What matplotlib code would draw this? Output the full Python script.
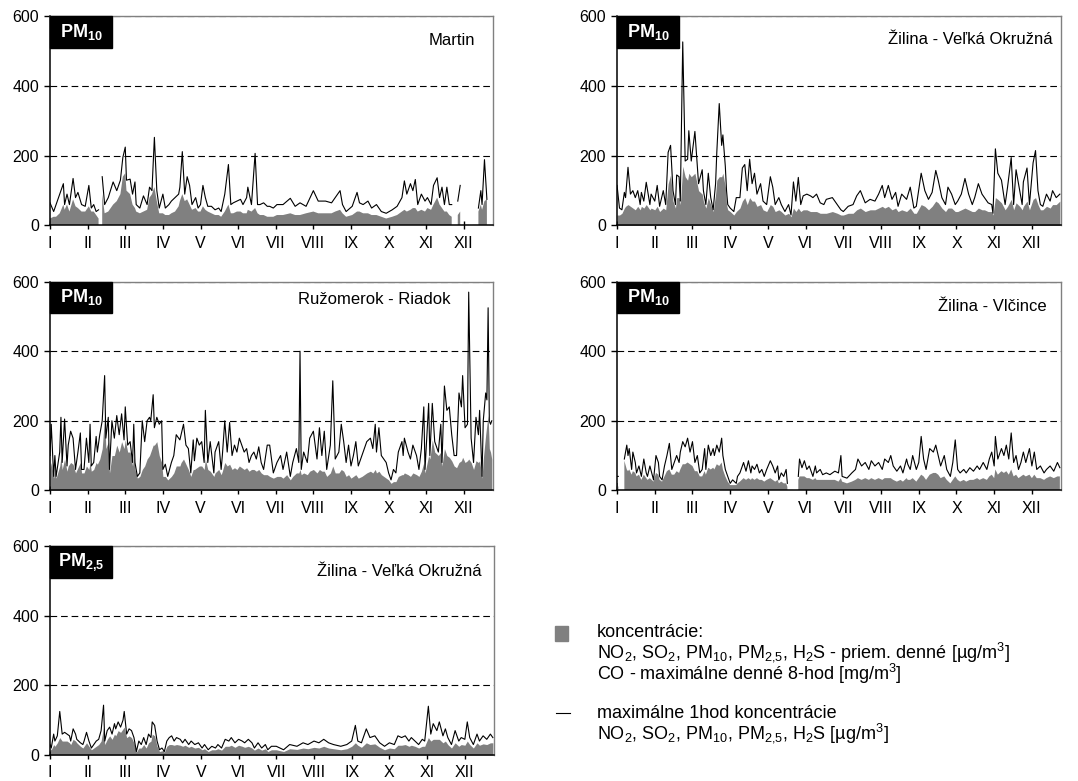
import numpy as np
import matplotlib.pyplot as plt
from matplotlib.patches import Rectangle
from matplotlib.lines import Line2D

nan = np.nan

plt.rcParams['font.family'] = 'Liberation Sans'
plt.rcParams['mathtext.fontset'] = 'custom'
plt.rcParams['mathtext.rm'] = 'Liberation Sans'
plt.rcParams['mathtext.it'] = 'Liberation Sans:italic'
plt.rcParams['mathtext.bf'] = 'Liberation Sans:bold'
plt.rcParams['mathtext.default'] = 'regular'

months = ['I', 'II', 'III', 'IV', 'V', 'VI', 'VII', 'VIII', 'IX', 'X', 'XI', 'XII']

# --- Martin PM10 (den v roku, max 1h, priemer denny) ---
martin_days = [0, 3, 5, 8, 11, 12, 14, 16, 19, 21,
               23, 26, 29, 32, 34, 36, 38, 40, 41, 43,
               45, 48, 52, 55, 58, 60, 62, 63, 66, 68,
               70, 71, 74, 77, 80, 82, 84, 86, 88, 90,
               93, 95, 98, 100, 103, 106, 107, 109, 111, 113,
               115, 117, 120, 122, 124, 126, 128, 130, 133, 136,
               139, 141, 144, 147, 149, 151, 154, 157, 159, 162,
               163, 166, 169, 171, 173, 176, 179, 181, 184, 187,
               192, 198, 202, 206, 211, 217, 221, 227, 232, 235,
               239, 241, 244, 249, 253, 255, 258, 262, 265, 269,
               273, 277, 282, 286, 290, 292, 294, 297, 299, 301,
               303, 306, 309, 311, 314, 316, 319, 321, 323, 325,
               327, 329, 331, 333, 336, 338, 340, 353, 355, 356,
               358, 360, 362]
martin_max = [65, 40, 60, 90, 120, 60, 90, 60, 135, 80,
              95, 60, 55, 115, 50, 60, 40, 45, nan, 140,
              60, 80, 125, 100, 130, 195, 225, 130, 133, 90,
              125, 60, 50, 85, 60, 110, 100, 253, 100, 50,
              90, 50, 60, 70, 80, 90, 110, 212, 90, 140,
              115, 60, 80, 50, 60, 115, 80, 55, 55, 45,
              50, 40, 90, 175, 60, 65, 70, 75, 60, 80,
              110, 60, 207, 60, 60, 65, 55, 55, 50, 60,
              60, 78, 55, 65, 55, 100, 70, 70, 65, 80,
              100, 60, 40, 55, 95, 65, 60, 70, 50, 60,
              40, 35, 45, 55, 80, 128, 90, 120, 100, 132,
              60, 90, 70, 80, 60, 115, 137, 80, 110, 60,
              110, 60, 60, nan, 70, 115, nan, 50, 100, 60,
              189, 75, nan]
martin_avg = [20, 25, 25, 35, 60, 45, 60, 40, 75, 55,
              50, 40, 40, 55, 40, 40, 30, 20, nan, 90,
              35, 40, 60, 70, 90, 140, 150, 100, 90, 60,
              50, 40, 35, 40, 45, 80, 90, 110, 70, 35,
              35, 30, 30, 35, 40, 55, 70, 90, 70, 75,
              60, 45, 50, 40, 40, 55, 45, 40, 35, 30,
              30, 25, 40, 60, 35, 35, 40, 40, 35, 35,
              45, 40, 50, 35, 30, 30, 25, 25, 25, 30,
              30, 35, 30, 30, 35, 40, 35, 35, 35, 40,
              45, 35, 25, 30, 40, 40, 35, 35, 30, 30,
              25, 20, 25, 30, 40, 45, 40, 45, 50, 50,
              40, 45, 40, 50, 45, 60, 80, 60, 50, 40,
              40, 30, 25, nan, 30, 40, nan, 40, 60, 45,
              70, 75, nan]

# --- Zilina - Velka Okruzna PM10 ---
zvo_days = [0, 2, 4, 6, 7, 9, 11, 13, 15, 17,
            19, 20, 22, 24, 27, 28, 31, 33, 35, 38,
            40, 42, 44, 46, 48, 49, 51, 52, 54, 56,
            58, 59, 61, 64, 67, 70, 71, 73, 75, 77,
            79, 81, 82, 84, 86, 87, 89, 90, 91, 93,
            96, 98, 101, 103, 105, 107, 109, 111, 113, 115,
            118, 120, 123, 126, 128, 130, 133, 135, 138, 141,
            143, 145, 147, 149, 151, 153, 156, 159, 161, 164,
            167, 170, 172, 177, 181, 184, 186, 190, 194, 197,
            200, 204, 208, 212, 215, 218, 220, 223, 226, 229,
            231, 234, 238, 241, 244, 246, 250, 253, 256, 259,
            262, 264, 267, 270, 272, 275, 278, 280, 283, 286,
            289, 292, 294, 297, 300, 302, 305, 308, 309, 311,
            313, 316, 319, 321, 324, 326, 328, 331, 333, 334,
            337, 339, 342, 344, 346, 348, 350, 353, 356, 358,
            361, 364]
zvo_max = [115, 50, 45, 95, 80, 167, 90, 100, 80, 100,
           60, 95, 70, 124, 60, 90, 70, 115, 55, 100,
           60, 210, 230, 100, 60, 145, 140, 70, 527, 185,
           190, 272, 185, 270, 120, 160, 100, 60, 150, 80,
           45, 120, 210, 350, 230, 260, 170, 100, 60, 50,
           40, 80, 80, 165, 175, 100, 190, 120, 150, 90,
           120, 70, 60, 140, 110, 60, 80, 60, 40, 60,
           30, 125, 70, 138, 60, 85, 90, 85, 80, 90,
           65, 60, 75, 80, 60, 45, 40, 55, 60, 85,
           100, 65, 75, 70, 90, 115, 80, 115, 75, 95,
           55, 90, 75, 110, 50, 55, 150, 100, 75, 95,
           158, 130, 80, 60, 110, 90, 60, 70, 90, 135,
           90, 60, 80, 120, 90, 80, 65, 60, 35, 220,
           150, 130, 60, 110, 195, 60, 160, 100, 60, 125,
           165, 60, 180, 215, 100, 60, 55, 90, 70, 100,
           80, 90]
zvo_avg = [30, 30, 35, 50, 55, 60, 55, 50, 45, 55,
           45, 55, 50, 60, 45, 50, 45, 55, 40, 50,
           45, 120, 145, 70, 50, 80, 80, 60, 170, 140,
           130, 150, 140, 150, 100, 90, 70, 50, 80, 60,
           40, 90, 130, 140, 140, 150, 110, 60, 45, 40,
           30, 40, 50, 70, 80, 60, 80, 70, 70, 55,
           60, 45, 40, 60, 55, 40, 45, 40, 30, 35,
           25, 50, 40, 50, 40, 45, 45, 40, 40, 40,
           35, 35, 35, 40, 35, 30, 30, 35, 35, 45,
           50, 40, 45, 45, 50, 55, 50, 55, 45, 50,
           40, 45, 40, 50, 35, 35, 60, 55, 45, 55,
           70, 65, 50, 40, 50, 50, 40, 40, 45, 50,
           45, 40, 40, 50, 45, 45, 40, 40, 30, 80,
           75, 65, 45, 55, 75, 45, 65, 55, 45, 55,
           70, 45, 75, 80, 60, 45, 45, 55, 50, 60,
           60, 70]

# --- Ruzomberok - Riadok PM10 ---
rz_days = [0, 1, 3, 4, 5, 8, 9, 10, 12, 14,
           15, 17, 19, 21, 23, 25, 26, 28, 30, 32,
           33, 34, 36, 38, 39, 41, 43, 45, 46, 48,
           49, 51, 53, 55, 57, 59, 61, 62, 64, 66,
           68, 69, 70, 72, 74, 76, 78, 80, 82, 83,
           85, 86, 88, 90, 92, 93, 95, 97, 100, 102,
           104, 107, 108, 110, 112, 114, 116, 118, 119, 121,
           123, 125, 127, 128, 130, 132, 135, 136, 139, 141,
           142, 144, 146, 148, 150, 152, 154, 156, 158, 160,
           162, 164, 166, 168, 170, 172, 174, 176, 179, 181,
           184, 187, 190, 192, 195, 198, 200, 203, 205, 206,
           207, 209, 212, 214, 217, 220, 222, 224, 226, 228,
           231, 233, 235, 238, 240, 242, 244, 246, 248, 250,
           252, 254, 257, 259, 261, 264, 266, 268, 269, 271,
           273, 275, 277, 279, 281, 283, 285, 287, 290, 291,
           292, 295, 297, 299, 302, 304, 306, 308, 309, 312,
           313, 315, 317, 320, 322, 323, 325, 327, 329, 331,
           333, 335, 337, 339, 340, 342, 344, 345, 347, 349,
           351, 353, 354, 356, 357, 359, 360, 361, 362, 363,
           364]
rz_max = [100, 190, 40, 100, 40, 110, 210, 80, 205, 70,
          130, 170, 150, 60, 110, 165, 60, 60, 150, 80,
          190, 70, 80, 155, 110, 160, 200, 330, 150, 210,
          60, 200, 150, 215, 160, 220, 145, 240, 130, 140,
          80, 190, 80, 40, 50, 200, 140, 200, 210, 200,
          275, 180, 210, 190, 200, 60, 75, 40, 80, 100,
          160, 145, 160, 190, 130, 120, 50, 145, 85, 150,
          130, 140, 80, 230, 80, 140, 50, 110, 140, 60,
          100, 200, 110, 195, 100, 130, 110, 150, 130, 110,
          120, 80, 100, 110, 90, 125, 80, 60, 130, 130,
          50, 80, 100, 60, 110, 40, 80, 120, 80, 400,
          60, 110, 80, 150, 170, 90, 180, 100, 170, 60,
          130, 315, 90, 110, 190, 140, 80, 130, 70, 100,
          140, 70, 100, 120, 140, 150, 120, 190, 110, 180,
          100, 90, 80, 50, 30, 60, 50, 110, 140, 100,
          150, 110, 90, 130, 100, 60, 120, 240, 60, 250,
          100, 250, 140, 110, 190, 80, 300, 230, 240, 160,
          100, 100, 280, 240, 330, 180, 190, 570, 150, 80,
          210, 160, 230, 40, 200, 280, 260, 525, 200, 190,
          200]
rz_avg = [60, 80, 35, 60, 35, 70, 95, 60, 90, 55,
          70, 80, 75, 50, 65, 80, 50, 50, 70, 60,
          80, 55, 60, 80, 75, 90, 120, 215, 120, 140,
          50, 100, 100, 130, 110, 140, 120, 145, 110, 110,
          70, 100, 60, 35, 40, 60, 70, 90, 100, 110,
          130, 130, 140, 100, 80, 40, 40, 30, 40, 50,
          70, 70, 80, 90, 75, 60, 40, 60, 60, 65,
          70, 70, 60, 90, 60, 55, 40, 50, 60, 45,
          55, 80, 70, 75, 60, 65, 60, 70, 65, 60,
          65, 55, 60, 60, 55, 60, 50, 45, 45, 40,
          35, 40, 40, 35, 45, 30, 40, 50, 50, 60,
          45, 50, 45, 55, 60, 50, 60, 55, 55, 40,
          50, 70, 50, 50, 60, 55, 40, 45, 35, 40,
          45, 35, 40, 45, 50, 55, 50, 60, 50, 55,
          45, 40, 35, 30, 20, 25, 25, 40, 45, 45,
          50, 45, 40, 50, 45, 40, 55, 80, 50, 100,
          90, 145, 110, 100, 110, 70, 120, 100, 95, 85,
          70, 65, 80, 85, 95, 80, 85, 90, 80, 60,
          85, 80, 85, 35, 90, 160, 190, 215, 120, 110,
          90]

# --- Zilina - Vlcince PM10 ---
vl_days = [0, 1, 2, 6, 8, 9, 10, 12, 13, 15,
           16, 18, 20, 22, 24, 25, 27, 30, 32, 34,
           35, 37, 39, 41, 43, 45, 47, 49, 51, 52,
           54, 56, 58, 60, 62, 64, 66, 68, 70, 72,
           73, 75, 77, 79, 80, 82, 84, 86, 87, 89,
           91, 93, 95, 98, 99, 101, 104, 106, 108, 110,
           111, 113, 115, 117, 119, 121, 123, 126, 128, 130,
           132, 133, 135, 137, 139, 140, 141, 149, 150, 152,
           154, 156, 158, 161, 163, 164, 167, 169, 172, 175,
           179, 182, 184, 185, 189, 193, 196, 198, 201, 204,
           207, 209, 212, 215, 218, 220, 223, 225, 227, 230,
           233, 235, 238, 239, 241, 243, 246, 248, 250, 252,
           254, 257, 260, 262, 264, 266, 269, 271, 274, 276,
           278, 280, 282, 285, 287, 290, 293, 296, 298, 301,
           304, 306, 308, 310, 311, 313, 316, 318, 320, 322,
           324, 326, 328, 330, 332, 334, 336, 339, 341, 343,
           345, 348, 351, 353, 356, 359, 362, 364]
vl_max = [40, 40, nan, 90, 130, 100, 120, 60, 110, 80,
          50, 70, 40, 90, 50, 40, 70, 30, 100, 80,
          40, 30, 70, 100, 135, 60, 80, 100, 80, 110,
          140, 125, 150, 110, 140, 80, 100, 50, 60, 120,
          60, 130, 100, 120, 100, 130, 110, 150, 100, 60,
          40, 20, 30, 20, 40, 50, 80, 55, 85, 50,
          70, 60, 75, 50, 60, 40, 60, 85, 70, 50,
          70, 30, 50, 40, 60, 20, nan, 40, 90, 65,
          85, 60, 70, 40, 70, 50, 60, 45, 50, 45,
          55, 50, 100, 40, 35, 50, 60, 90, 70, 80,
          60, 85, 70, 80, 60, 90, 80, 100, 70, 55,
          70, 50, 90, 75, 60, 100, 60, 80, 155, 90,
          60, 120, 110, 130, 100, 70, 100, 60, 40, 80,
          145, 60, 50, 60, 50, 65, 55, 70, 60, 80,
          60, 90, 110, 70, 155, 90, 120, 100, 130, 90,
          165, 80, 100, 60, 80, 110, 80, 120, 70, 110,
          60, 70, 50, 60, 70, 55, 80, 65]
vl_avg = [20, 20, nan, 85, 60, 55, 60, 45, 55, 50,
          40, 45, 30, 45, 35, 30, 35, 25, 50, 45,
          30, 25, 40, 55, 60, 45, 45, 55, 50, 60,
          75, 75, 80, 75, 70, 55, 55, 40, 40, 55,
          45, 65, 60, 65, 60, 75, 70, 80, 60, 40,
          25, 15, 15, 15, 20, 25, 35, 30, 35, 30,
          35, 30, 35, 30, 30, 25, 30, 35, 30, 25,
          30, 20, 25, 20, 20, 10, nan, 30, 40, 40,
          40, 35, 35, 30, 35, 30, 30, 30, 30, 30,
          30, 25, 35, 25, 20, 25, 30, 35, 30, 35,
          30, 35, 30, 35, 30, 35, 35, 35, 30, 25,
          30, 25, 35, 30, 30, 35, 25, 35, 45, 40,
          30, 45, 50, 50, 45, 35, 40, 30, 20, 30,
          40, 30, 25, 30, 25, 30, 30, 35, 30, 35,
          30, 40, 45, 35, 60, 45, 55, 50, 55, 45,
          60, 40, 45, 35, 40, 45, 40, 45, 35, 45,
          35, 35, 30, 35, 40, 35, 40, 40]

# --- Zilina - Velka Okruzna PM2,5 ---
pm25_days = [0, 1, 3, 4, 6, 8, 10, 12, 14, 16,
             17, 19, 21, 22, 25, 27, 28, 30, 32, 34,
             36, 38, 40, 42, 44, 45, 47, 49, 51, 53,
             54, 56, 58, 60, 61, 63, 65, 67, 69, 71,
             73, 75, 77, 79, 81, 83, 84, 86, 88, 90,
             92, 94, 96, 98, 100, 102, 104, 107, 109, 111,
             114, 116, 119, 122, 125, 127, 130, 133, 136, 138,
             141, 144, 147, 149, 152, 155, 158, 160, 163, 166,
             168, 171, 174, 177, 179, 182, 186, 192, 197, 203,
             208, 212, 217, 221, 225, 229, 233, 239, 244, 248,
             251, 253, 256, 260, 263, 267, 271, 275, 279, 283,
             286, 289, 292, 295, 297, 300, 303, 306, 308, 311,
             313, 315, 318, 320, 323, 325, 327, 330, 333, 336,
             338, 341, 343, 345, 348, 351, 353, 356, 359, 362,
             364]
pm25_max = [30, 20, 60, 40, 55, 125, 60, 65, 60, 55,
            40, 75, 60, 45, 35, 30, 40, 65, 40, 20,
            30, 40, 45, 70, 143, 40, 70, 80, 60, 90,
            75, 95, 80, 100, 125, 60, 75, 70, 50, 10,
            40, 30, 50, 30, 60, 50, 95, 85, 40, 15,
            20, 10, 40, 50, 55, 40, 50, 45, 35, 45,
            30, 40, 30, 35, 20, 30, 15, 25, 20, 30,
            20, 45, 40, 50, 35, 45, 40, 35, 45, 35,
            20, 35, 20, 30, 15, 25, 25, 15, 30, 25,
            35, 30, 40, 35, 45, 35, 30, 25, 30, 40,
            85, 40, 35, 75, 50, 55, 35, 25, 35, 30,
            55, 50, 55, 40, 50, 40, 30, 45, 40, 140,
            60, 90, 70, 95, 55, 75, 50, 30, 70, 40,
            50, 45, 95, 50, 30, 60, 40, 55, 45, 60,
            50]
pm25_avg = [20, 15, 30, 25, 35, 50, 40, 40, 40, 35,
            30, 45, 40, 35, 25, 20, 25, 35, 25, 15,
            20, 25, 30, 40, 80, 30, 45, 55, 45, 60,
            55, 70, 65, 75, 80, 50, 55, 50, 35, 8,
            20, 20, 30, 20, 35, 40, 60, 55, 25, 10,
            12, 8, 25, 30, 30, 28, 30, 28, 25, 28,
            22, 25, 20, 22, 15, 18, 10, 15, 15, 18,
            14, 25, 25, 28, 22, 28, 25, 22, 25, 20,
            14, 20, 14, 18, 10, 15, 15, 10, 18, 16,
            20, 18, 22, 20, 25, 20, 18, 15, 18, 25,
            35, 28, 22, 35, 30, 32, 22, 15, 20, 18,
            28, 28, 30, 25, 28, 25, 20, 25, 25, 50,
            40, 45, 45, 45, 35, 40, 30, 20, 35, 25,
            30, 28, 40, 30, 20, 35, 28, 32, 30, 35,
            35]


def kresli_panel(ax, days, mx, avg, label, station, sx, sy):
    ax.fill_between(days, 0, avg, color='#808080', lw=0, zorder=2)
    ax.plot(days, mx, color='black', lw=0.8, zorder=3)
    ax.set_xlim(0, 365)
    ax.set_ylim(0, 600)
    ax.set_xticks(np.arange(0, 365, 31))
    ax.set_xticklabels(months)
    ax.set_yticks([0, 200, 400, 600])
    ax.grid(axis='y', color='black', lw=0.8, linestyle=(0, (6, 3.5)))
    ax.set_axisbelow(True)
    ax.tick_params(axis='x', direction='inout', length=6, width=1,
                   pad=4.5, labelsize=11.5)
    ax.tick_params(axis='y', direction='out', length=4, width=1,
                   pad=4, labelsize=11.5)
    for s in ['top', 'right']:
        ax.spines[s].set_color('#808080')
        ax.spines[s].set_linewidth(1)
    for s in ['left', 'bottom']:
        ax.spines[s].set_linewidth(1.1)
    w, h = 0.14, 0.151
    ax.add_patch(Rectangle((0, 1 - h), w, h, transform=ax.transAxes,
                           color='black', zorder=5, clip_on=False))
    ax.text(w / 2, 1 - h / 2, label, transform=ax.transAxes, color='white',
            fontsize=13, ha='center', va='center', zorder=6)
    ax.text(sx, sy, station, transform=ax.transAxes, ha='right',
            va='center', fontsize=12, zorder=6)


fig = plt.figure(figsize=(10.78, 7.81), dpi=100)

ax1 = fig.add_axes([0.0464, 0.7113, 0.4109, 0.2676])
ax2 = fig.add_axes([0.5724, 0.7113, 0.4119, 0.2676])
ax3 = fig.add_axes([0.0464, 0.3722, 0.4109, 0.2671])
ax4 = fig.add_axes([0.5724, 0.3722, 0.4119, 0.2671])
ax5 = fig.add_axes([0.0464, 0.0333, 0.4119, 0.2676])

kresli_panel(ax1, martin_days, martin_max, martin_avg,
             r'$\mathbf{PM_{10}}$', 'Martin', 0.959, 0.883)
kresli_panel(ax2, zvo_days, zvo_max, zvo_avg,
             r'$\mathbf{PM_{10}}$', 'Žilina - Veľká Okružná', 0.982, 0.888)
kresli_panel(ax3, rz_days, rz_max, rz_avg,
             r'$\mathbf{PM_{10}}$', 'Ružomerok - Riadok', 0.903, 0.914)
kresli_panel(ax4, vl_days, vl_max, vl_avg,
             r'$\mathbf{PM_{10}}$', 'Žilina - Vlčince', 0.968, 0.880)
kresli_panel(ax5, pm25_days, pm25_max, pm25_avg,
             r'$\mathbf{PM_{2{,}5}}$', 'Žilina - Veľká Okružná', 0.973, 0.880)

# legenda
fig.patches.append(Rectangle((0.5148, 0.1793), 0.0121, 0.0192,
                             transform=fig.transFigure, color='#808080'))
fig.add_artist(Line2D([0.5158, 0.5288], [0.0871, 0.0871],
                      transform=fig.transFigure, color='black', lw=0.8))

tx = 0.5538
legenda_1 = ('koncentrácie:\n'
             r'NO$_2$, SO$_2$, PM$_{10}$, PM$_{2{,}5}$, H$_2$S - priem. denné [µg/m$^3$]' '\n'
             r'CO - maximálne denné 8-hod [mg/m$^3$]')
legenda_2 = ('maximálne 1hod koncentrácie\n'
             r'NO$_2$, SO$_2$, PM$_{10}$, PM$_{2{,}5}$, H$_2$S [µg/m$^3$]')
fig.text(tx, 0.2005, legenda_1, fontsize=13, va='top', linespacing=0.9)
fig.text(tx, 0.0968, legenda_2, fontsize=13, va='top', linespacing=0.9)

fig.savefig('out.png', dpi=100)
